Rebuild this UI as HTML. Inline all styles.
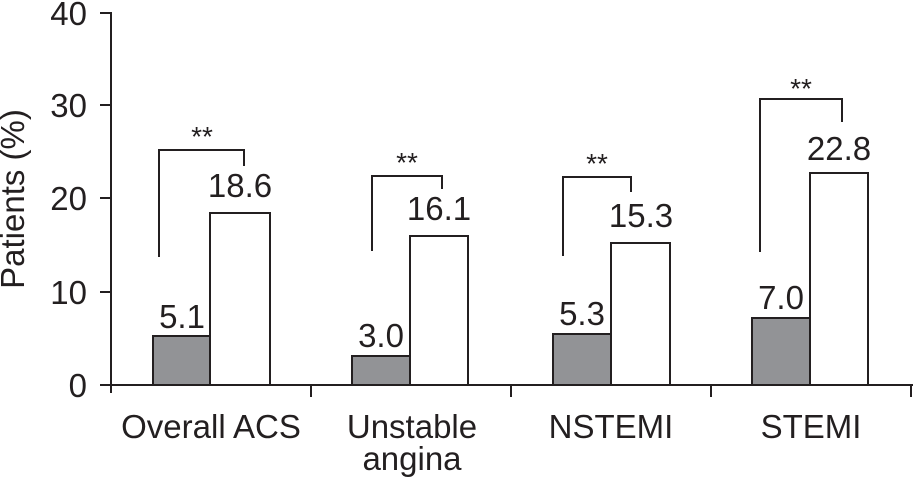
<!DOCTYPE html>
<html><head><style>body{margin:0;background:#fff}svg text{font-family:"Liberation Sans",sans-serif;fill:#231f20}</style></head>
<body><svg width="913" height="482" xmlns="http://www.w3.org/2000/svg">
<g stroke="#231f20" stroke-width="2" fill="none">
<line x1="111" y1="12" x2="111" y2="393"/>
<line x1="100" y1="385" x2="913" y2="385"/>
<line x1="100" y1="13" x2="111" y2="13"/>
<line x1="100" y1="105" x2="111" y2="105"/>
<line x1="100" y1="198" x2="111" y2="198"/>
<line x1="100" y1="292" x2="111" y2="292"/>
<line x1="311" y1="385" x2="311" y2="397"/>
<line x1="511" y1="385" x2="511" y2="397"/>
<line x1="711" y1="385" x2="711" y2="397"/>
<line x1="911" y1="385" x2="911" y2="397"/>
<rect x="153" y="336" width="57" height="49" fill="#929396"/>
<rect x="210" y="213" width="60" height="172" fill="#fff"/>
<rect x="352" y="356" width="58" height="29" fill="#929396"/>
<rect x="410" y="236" width="58" height="149" fill="#fff"/>
<rect x="553" y="334" width="58" height="51" fill="#929396"/>
<rect x="611" y="243" width="59" height="142" fill="#fff"/>
<rect x="752" y="318" width="58" height="67" fill="#929396"/>
<rect x="810" y="173" width="58" height="212" fill="#fff"/>
<polyline points="159,257 159,150 244,150 244,166"/>
<polyline points="372,251 372,176 442,176 442,189"/>
<polyline points="563,256 563,177 631,177 631,192"/>
<polyline points="760,252 760,99 842,99 842,122"/>
</g>
<g font-size="33" text-anchor="end">
<text x="87" y="25">40</text><text x="87" y="117">30</text><text x="87" y="210">20</text><text x="87" y="304">10</text><text x="87" y="397">0</text>
</g>
<text transform="translate(24,199) rotate(-90)" font-size="33" text-anchor="middle">Patients (%)</text>
<g font-size="33" text-anchor="middle">
<text x="182" y="328">5.1</text><text x="240" y="197">18.6</text>
<text x="381" y="347">3.0</text><text x="439" y="220">16.1</text>
<text x="582" y="325">5.3</text><text x="641" y="227">15.3</text>
<text x="781" y="309">7.0</text><text x="839" y="160">22.8</text>
<text x="211" y="438">Overall ACS</text>
<text x="412" y="438">Unstable</text><text x="412" y="470">angina</text>
<text x="611" y="438">NSTEMI</text>
<text x="811" y="438">STEMI</text>
</g>
<g font-size="28" text-anchor="middle">
<text x="202" y="146">**</text><text x="407" y="172">**</text><text x="597" y="173">**</text><text x="801" y="98">**</text>
</g>
</svg></body></html>
